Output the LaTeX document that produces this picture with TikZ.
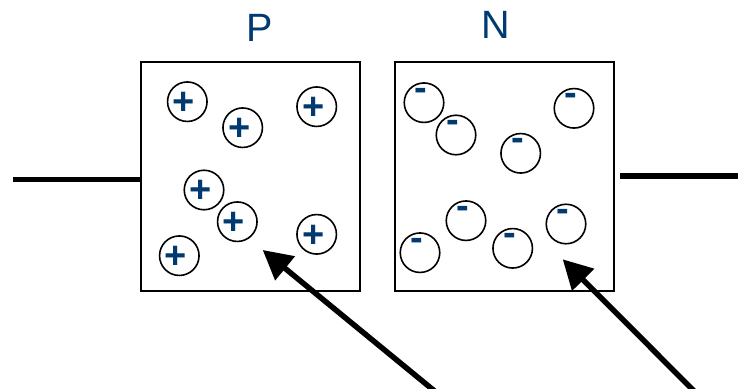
\documentclass[tikz,border=0pt]{standalone}
\usepackage{fontspec}
\setmainfont{Liberation Sans}
\usetikzlibrary{arrows.meta}
\definecolor{chargeblue}{RGB}{0,58,112}
\begin{document}
\begin{tikzpicture}[x=1pt,y=-1pt,
  region/.style={draw,line width=2pt,minimum width=219pt,minimum height=228.4pt,inner sep=0pt},
  title/.style={text=chargeblue,font=\fontsize{39.5}{40}\selectfont,inner sep=0pt},
  sign/.style={text=chargeblue,font=\fontsize{38}{38}\selectfont\bfseries,inner sep=0pt},
  carrier/.style={circle,draw,line width=1.6pt,minimum size=39.5pt,inner sep=0pt},
  hole/.style={carrier,label={[sign,xshift=-3.5pt,yshift=-1.8pt]center:+}},
  electron/.style={carrier,label={[sign,xshift=-3.3pt,yshift=8.4pt]center:-}},
  lead/.style={line width=5.5pt},
  beam/.style={line width=5.5pt,-{Triangle[length=29pt,width=30pt]}}]
\useasboundingbox (0,0) rectangle (738,388);

% the two semiconductor regions
\node[region] (Pbox) at (250.4,176.5) {};
\node[region] (Nbox) at (504.5,176.5) {};
\node[title] (Plab) at (260,28) {P};
\node[title] (Nlab) at (496,25) {N};

% holes in the P region
\node[hole] (p1) at (187.3,101.7) {};
\node[hole] (p2) at (242.7,127.7) {};
\node[hole] (p3) at (316.7,106.7) {};
\node[hole] (p4) at (204,190) {};
\node[hole] (p5) at (237.3,221.7) {};
\node[hole] (p6) at (316.7,234.3) {};
\node[hole] (p7) at (179.3,255.7) {};

% electrons in the N region
\node[electron] (n1) at (424,102.7) {};
\node[electron] (n2) at (456,135) {};
\node[electron] (n3) at (574,108.3) {};
\node[electron] (n4) at (520.7,153.3) {};
\node[electron] (n5) at (466,220.7) {};
\node[electron] (n6) at (566,224) {};
\node[electron] (n7) at (420,252.7) {};
\node[electron] (n8) at (512.7,248.3) {};

% terminal leads
\coordinate (leftend) at (13.3,179.3);
\draw[lead] (leftend) -- (leftend -| Pbox.west);
\coordinate (rightstart) at ([xshift=5.3pt]Nbox.east);
\coordinate (rightend) at (738,176);
\draw[lead] (rightstart |- rightend) -- (rightend);

% incoming arrows
\coordinate (ptail) at (434.5,391);
\coordinate (ptip) at (262.7,250);
\draw[beam] (ptail) -- (ptip);
\coordinate (ntail) at (694,391);
\coordinate (ntip) at (562.7,259.3);
\draw[beam] (ntail) -- (ntip);
\end{tikzpicture}
\end{document}
